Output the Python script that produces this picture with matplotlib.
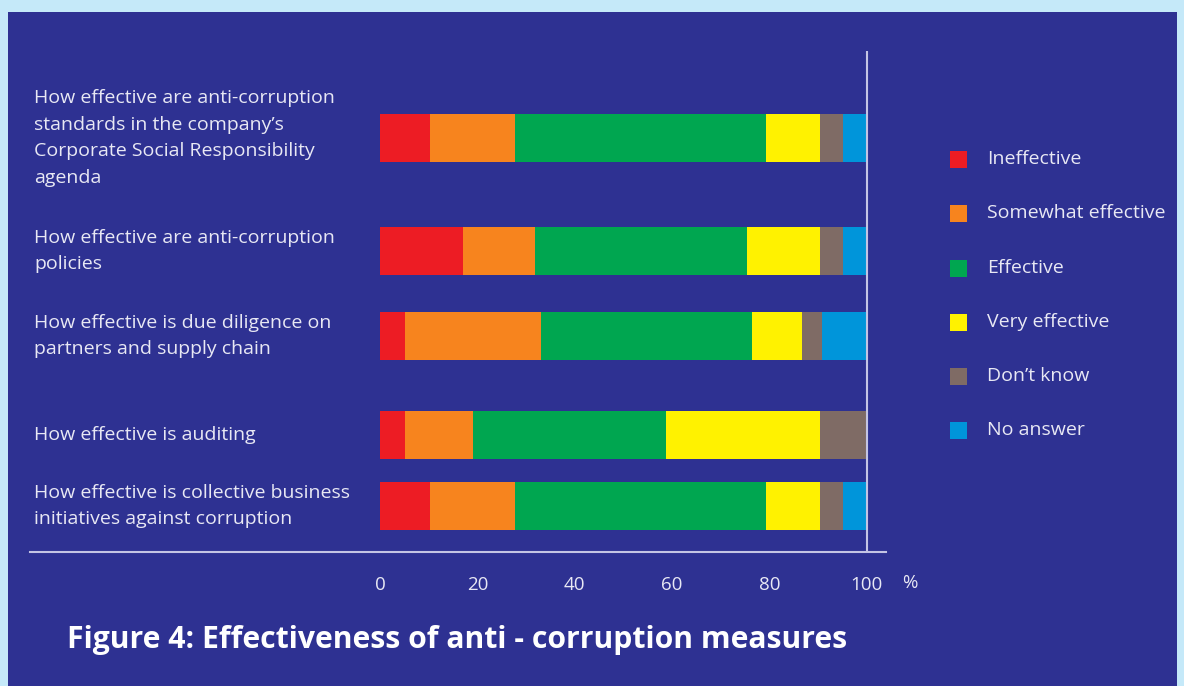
import numpy as np
import matplotlib
matplotlib.use("Agg")
import matplotlib.pyplot as plt
from matplotlib.patches import Rectangle

questions = [
    "How effective are anti-corruption\nstandards in the company\u2019s\nCorporate Social Responsibility\nagenda",
    "How effective are anti-corruption\npolicies",
    "How effective is due diligence on\npartners and supply chain",
    "How effective is auditing",
    "How effective is collective business\ninitiatives against corruption",
]
categories = ["Ineffective", "Somewhat effective", "Effective",
              "Very effective", "Don\u2019t know", "No answer"]
ineffective = [10.3, 17.1, 5.1, 5.1, 10.3]
somewhat = [17.4, 14.7, 28.0, 14.0, 17.4]
effective = [51.6, 43.6, 43.3, 39.7, 51.6]
very = [11.1, 15.0, 10.3, 31.6, 11.1]
dont_know = [4.8, 4.8, 4.1, 9.6, 4.8]
no_answer = [4.8, 4.8, 9.2, 0.0, 4.8]
ticks = [0, 20, 40, 60, 80, 100]

series = [ineffective, somewhat, effective, very, dont_know, no_answer]
colors = ["#ed1c24", "#f7841e", "#00a650", "#fff200", "#7f6b65", "#0095da"]

# layout in pixels (figure is 1184 x 686)
W, H = 1184, 686
bar_y = [138, 251, 336, 435, 506]
bar_h = 48
x0_px, x100_px = 380, 866.7
ppu = (x100_px - x0_px) / 100.0
ax_left, ax_right = 30, 886
ax_top, ax_bottom = 51, 552

panel = "#2e3192"
txt = "#e8e8f4"
line_c = "#c4c4e4"

fig = plt.figure(figsize=(W / 100, H / 100), dpi=100)
fig.patch.set_facecolor("#c5e9f9")
fig.add_artist(Rectangle((8 / W, 0), (1177 - 8) / W, (H - 12) / H,
                         transform=fig.transFigure, facecolor=panel,
                         edgecolor="none", zorder=0))

ax = fig.add_axes([ax_left / W, 1 - ax_bottom / H,
                   (ax_right - ax_left) / W, (ax_bottom - ax_top) / H])
ax.set_facecolor("none")
ax.set_xlim((ax_left - x0_px) / ppu, (ax_right - x0_px) / ppu)
ax.set_ylim(ax_bottom, ax_top)

left = np.zeros(len(questions))
for vals, col, name in zip(series, colors, categories):
    ax.barh(bar_y, vals, left=left, height=bar_h, color=col, label=name,
            linewidth=0, zorder=2)
    left += np.array(vals)

ax.axvline(100, color=line_c, lw=1.5, zorder=3)
for s in ["top", "right", "left"]:
    ax.spines[s].set_visible(False)
ax.spines["bottom"].set_color(line_c)
ax.spines["bottom"].set_linewidth(1.5)
ax.set_yticks([])
ax.set_xticks(ticks)
ax.set_xticklabels([str(t) for t in ticks])
ax.tick_params(axis="x", length=0, pad=17, labelsize=13.5, labelcolor=txt)
for lab in ax.get_xticklabels():
    lab.set_family("Open Sans")
ax.text((910 - x0_px) / ppu, ax_bottom + 31, "%", ha="center", va="center",
        fontsize=13.5, color=txt, family="Open Sans")

label_x = (34 - x0_px) / ppu
for q, y in zip(questions, bar_y):
    ax.text(label_x, y, q, ha="left", va="center", fontsize=14, color=txt,
            family="Open Sans", linespacing=1.6)

# legend
leg_y = [159, 213, 268, 322, 376, 430]
for name, col, y in zip(categories, colors, leg_y):
    fig.add_artist(Rectangle((950 / W, 1 - (y + 8.5) / H), 17 / W, 17 / H,
                             transform=fig.transFigure, facecolor=col,
                             edgecolor="none"))
    fig.text(987 / W, 1 - y / H, name, ha="left", va="center", fontsize=14,
             color=txt, family="Open Sans")

fig.text(67 / W, 1 - 640 / H, "Figure 4: Effectiveness of anti - corruption measures",
         ha="left", va="center", fontsize=21.7, fontweight="bold",
         color="white", family="Open Sans")

fig.savefig("out.png", dpi=100, facecolor=fig.get_facecolor())
